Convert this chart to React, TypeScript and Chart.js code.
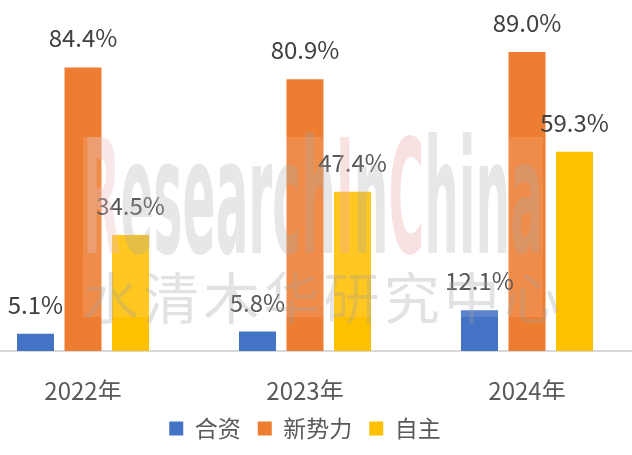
import React, { useEffect, useRef } from "react";
import { Chart, registerables } from "chart.js";

Chart.register(...registerables);

const years = ["2022年", "2023年", "2024年"];
const jointVenture = [5.1, 5.8, 12.1];
const newForces = [84.4, 80.9, 89.0];
const domestic = [34.5, 47.4, 59.3];

const seriesNames = ["合资", "新势力", "自主"];
const seriesColors = ["#4472C4", "#ED7D31", "#FFC000"];

const FONT = "'Noto Sans CJK SC', 'Noto Sans', sans-serif";
const SHIFT = 28; // canvas starts left of the window, the plot is cropped
const WIDTH = 666;

const valueLabels = {
  id: "valueLabels",
  afterDatasetsDraw(chart: Chart) {
    const ctx = chart.ctx;
    ctx.save();
    ctx.font = `24px ${FONT}`;
    ctx.fillStyle = "#404040";
    ctx.textAlign = "center";
    ctx.textBaseline = "alphabetic";
    chart.data.datasets.forEach((ds, i) => {
      const meta = chart.getDatasetMeta(i);
      meta.data.forEach((bar, j) => {
        const v = ds.data[j] as number;
        ctx.fillText(`${v.toFixed(1)}%`, bar.x, bar.y - 20);
      });
    });
    ctx.restore();
  },
};

const watermark = {
  id: "watermark",
  afterDraw(chart: Chart) {
    const ctx = chart.ctx;
    const left = 83 + SHIFT;
    const right = 543 + SHIFT;
    ctx.save();
    ctx.fillStyle = "rgba(255,255,255,0.12)";
    ctx.fillRect(left, 137, right - left, 180);

    // ResearchInChina, tall and narrow
    const parts: [string, string][] = [
      ["R", "rgba(235,190,190,0.35)"],
      ["esearch", "rgba(170,170,170,0.28)"],
      ["I", "rgba(235,170,170,0.35)"],
      ["n", "rgba(170,170,170,0.28)"],
      ["C", "rgba(235,170,170,0.35)"],
      ["hina", "rgba(170,170,170,0.28)"],
    ];
    ctx.font = `bold 100px 'DejaVu Sans Condensed', sans-serif`;
    const full = parts.map((p) => p[0]).join("");
    const w = ctx.measureText(full).width;
    const sx = (right - left) / w;
    const sy = 116 / 73;
    ctx.translate(left, 253);
    ctx.scale(sx, sy);
    ctx.textBaseline = "alphabetic";
    let x = 0;
    parts.forEach(([t, c]) => {
      ctx.fillStyle = c;
      ctx.fillText(t, x, 0);
      x += ctx.measureText(t).width;
    });
    ctx.restore();

    ctx.save();
    ctx.font = `56px ${FONT}`;
    ctx.fillStyle = "rgba(160,160,160,0.3)";
    ctx.textBaseline = "middle";
    const cn = "水清木华研究中心";
    const step = (560 - 83 - 56) / (cn.length - 1);
    for (let k = 0; k < cn.length; k++) {
      ctx.fillText(cn[k], left + k * step, 298);
    }
    ctx.restore();
  },
};

export default function App() {
  const canvasRef = useRef<HTMLCanvasElement | null>(null);

  useEffect(() => {
    if (!canvasRef.current) return;
    const chart = new Chart(canvasRef.current, {
      type: "bar",
      data: {
        labels: years,
        datasets: [jointVenture, newForces, domestic].map((d, i) => ({
          label: seriesNames[i],
          data: d,
          backgroundColor: seriesColors[i],
          categoryPercentage: 0.642,
          barPercentage: 0.779,
        })),
      },
      options: {
        responsive: true,
        maintainAspectRatio: false,
        animation: false,
        layout: { padding: { top: 15, left: 0, right: 0, bottom: 5 } },
        scales: {
          x: {
            grid: { display: false },
            border: { display: true, color: "#D9D9D9", width: 2 },
            ticks: {
              color: "#595959",
              font: { family: FONT, size: 24 },
              padding: 17,
            },
            afterFit: (scale) => {
              scale.height = 49;
            },
          },
          y: { display: false, min: 0, max: 100 },
        },
        plugins: {
          legend: {
            position: "bottom",
            labels: {
              color: "#595959",
              font: { family: FONT, size: 23 },
              boxWidth: 14,
              boxHeight: 14,
              padding: 17,
            },
          },
          tooltip: { enabled: false },
        },
      },
      plugins: [valueLabels, watermark],
    });
    return () => chart.destroy();
  }, []);

  return (
    <div style={{ position: "fixed", inset: 0, overflow: "hidden", background: "#fff" }}>
      <div style={{ position: "absolute", left: -SHIFT, top: 0, width: WIDTH, height: 455 }}>
        <canvas ref={canvasRef} />
      </div>
    </div>
  );
}
